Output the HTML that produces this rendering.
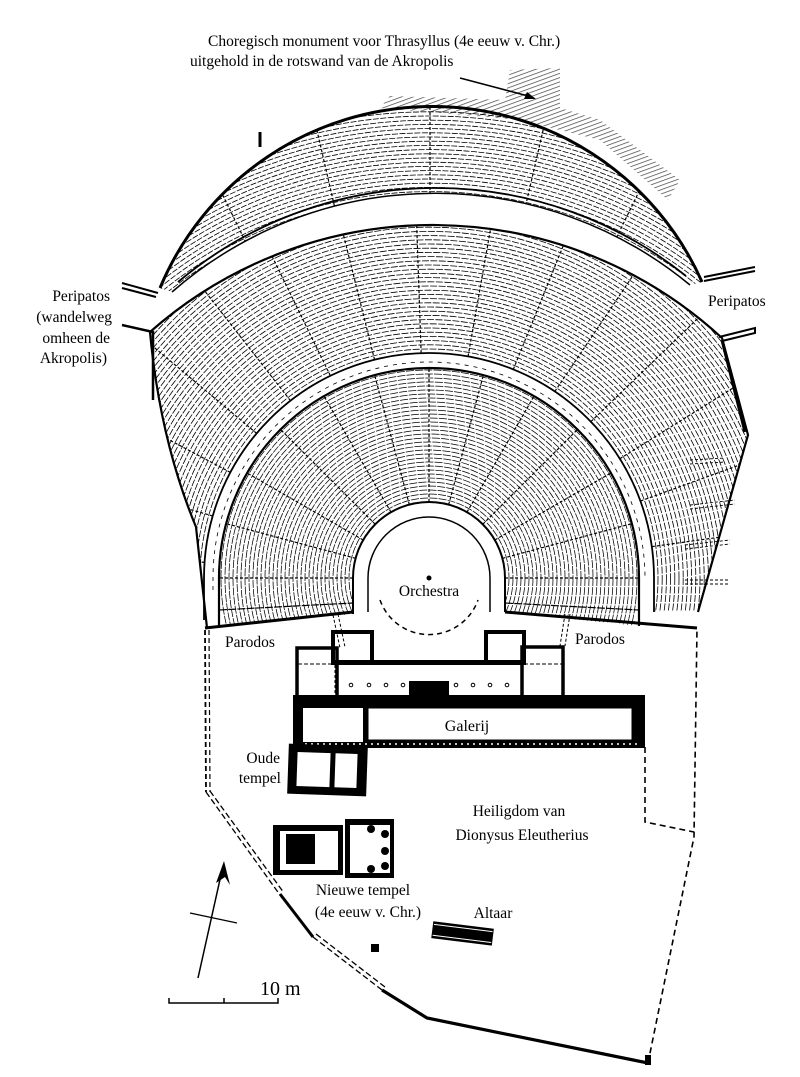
<!DOCTYPE html>
<html><head><meta charset="utf-8"><style>
html,body{margin:0;padding:0;background:#fff;width:800px;height:1077px;overflow:hidden}
svg{display:block}
text{font-family:"Liberation Serif",serif;fill:#000}
</style></head><body>
<svg width="800" height="1077" viewBox="0 0 800 1077" xmlns="http://www.w3.org/2000/svg">
<defs>
<clipPath id="cLow"><path d="M219,626 L219,578 A210,210 0 0 1 639,578 L639,626 L505,612 L505,578 A76,76 0 0 0 353,578 L353,614 Z"/></clipPath>
<clipPath id="cMid"><path d="M207,628 L196,527 Q160,440 150,332 A427,427 0 0 1 722,338 L748,435 L698,612 L654,612 L654,578 A225,225 0 0 0 204,578 Z"/></clipPath>
<clipPath id="cUp"><path d="M160,288 A295,295 0 0 1 702,282 L690,285 A400,400 0 0 0 172,292 Z"/></clipPath>
<pattern id="hatch" width="4" height="4" patternUnits="userSpaceOnUse" patternTransform="rotate(70)"><line x1="0" y1="0" x2="0" y2="4" stroke="#000" stroke-width="1.4"/></pattern>
</defs>

<text x="208" y="46" font-size="15.5">Choregisch monument voor Thrasyllus (4e eeuw v. Chr.)</text>
<text x="190" y="66" font-size="15.5">uitgehold in de rotswand van de Akropolis</text>
<line x1="460" y1="78" x2="532" y2="97" stroke="#000" stroke-width="1.5"/>
<polygon points="536,99 524,99 527,92" fill="#000"/>

<path d="M380,108 L390,96 L505,100 L510,70 L560,68 L560,108 L600,120 L680,180 L668,200 L600,140 L520,120 L430,112 Z" fill="url(#hatch)" opacity="0.75"/>

<g clip-path="url(#cUp)" fill="none" stroke="#000" stroke-width="0.8" stroke-dasharray="6 1.5"><g id="upRows"></g></g>
<g clip-path="url(#cMid)" fill="none" stroke="#000" stroke-width="0.8" stroke-dasharray="7 1.5"><g id="midRows"></g></g>
<g clip-path="url(#cLow)" fill="none" stroke="#000" stroke-width="0.75" stroke-dasharray="8 1.2"><g id="lowRows"></g></g>

<g fill="none" stroke="#000">
<path d="M160,288 A295,295 0 0 1 702,282" stroke-width="3"/>
<path d="M172,292 A400,400 0 0 1 690,285" stroke-width="1.5"/>
<path d="M178,282 A400,400 0 0 1 686,276" stroke-width="1.8"/>
<path d="M150,332 A427,427 0 0 1 722,338 L748,435 L698,612" stroke-width="2.2"/>
<path d="M150,332 Q160,440 196,527 L207,628" stroke-width="2.2"/>
<path d="M204,620 L204,578 A225,225 0 0 1 654,578 L654,612" stroke-width="1.8"/>
<path d="M219,626 L219,578 A210,210 0 0 1 639,578 L639,626" stroke-width="2.2"/>
<path d="M213,590 L213,578 A216,216 0 0 1 645,578" stroke-width="0.8" stroke-dasharray="4 5"/>
<path d="M353,614 L353,578 A76,76 0 0 1 505,578 L505,612" stroke-width="2"/>
<path d="M368,612 L368,578 A61,61 0 0 1 490,578 L490,612" stroke-width="1.5"/>
<path d="M380,600 A52,52 0 0 0 478,600" stroke-width="1.5" stroke-dasharray="5 4"/>
<path d="M205,628 L353,612 M505,612 L697,628" stroke-width="3"/>
<path d="M122,283 L158,293 M122,288 L156,297" stroke-width="2"/>
<path d="M122,325 L153,332 L153,400" stroke-width="2.5"/>
<path d="M704,277 L755,267 M704,281 L755,271" stroke-width="2"/>
<path d="M719,337 L755,328 L755,333 L722,341" stroke-width="2"/>
<path d="M722,340 L745,432" stroke-width="3"/>
<path d="M260,132 L260,147" stroke-width="3"/>
<path d="M690,460 L725,458 M690,464 L725,462 M690,505 L735,500 M690,509 L735,504 M685,545 L730,540 M685,549 L730,544 M685,580 L728,580 M685,584 L728,584" stroke-width="0.9" stroke-dasharray="3 2"/>
</g>
<circle cx="429" cy="578" r="2.5" fill="#000"/>

<g fill="none" stroke="#000">
<path d="M205,630 L206,792" stroke-width="1.8" stroke-dasharray="5 3"/>
<path d="M209,630 L210,792" stroke-width="1.2" stroke-dasharray="5 3"/>
<path d="M206,792 L280,895 M210,791 L284,893" stroke-width="1.3" stroke-dasharray="6 3"/>
<path d="M280,894 L313,937" stroke-width="3"/>
<path d="M313,937 L382,990 M316,934 L385,987" stroke-width="1.3" stroke-dasharray="6 3"/>
<path d="M382,990 L427,1018 L648,1063" stroke-width="3.2"/>
<path d="M648,1063 L694,837 L697,628" stroke-width="1.6" stroke-dasharray="6 4"/>
<path d="M645,747 L645,822 L694,832" stroke-width="1.6" stroke-dasharray="6 4"/>
<path d="M333,615 L340,648 M338,614 L345,647 M565,614 L560,646 M570,614 L565,646" stroke-width="1" stroke-dasharray="3 2"/>
</g>
<rect x="645" y="1055" width="6" height="10" fill="#000"/>

<g>
<rect x="333" y="632" width="39" height="31" fill="none" stroke="#000" stroke-width="4"/>
<rect x="486" y="632" width="38" height="31" fill="none" stroke="#000" stroke-width="4"/>
<rect x="297" y="648" width="40" height="50" fill="none" stroke="#000" stroke-width="3.5"/>
<rect x="522" y="647" width="41" height="51" fill="none" stroke="#000" stroke-width="3.5"/>
<rect x="333" y="660" width="191" height="5" fill="#000"/>
<line x1="298" y1="664" x2="333" y2="664" stroke="#000" stroke-width="1" stroke-dasharray="4 2"/>
<line x1="524" y1="664" x2="562" y2="664" stroke="#000" stroke-width="1" stroke-dasharray="4 2"/>
<line x1="335" y1="665" x2="335" y2="697" stroke="#000" stroke-width="1" stroke-dasharray="3 2"/>
<line x1="522" y1="665" x2="522" y2="697" stroke="#000" stroke-width="1" stroke-dasharray="3 2"/>
<g fill="#fff" stroke="#000" stroke-width="1">
<circle cx="351" cy="685" r="1.8"/><circle cx="369" cy="685" r="1.8"/><circle cx="386" cy="685" r="1.8"/><circle cx="403" cy="685" r="1.8"/>
<circle cx="456" cy="685" r="1.8"/><circle cx="473" cy="685" r="1.8"/><circle cx="490" cy="685" r="1.8"/><circle cx="507" cy="685" r="1.8"/>
</g>
<rect x="409" y="681" width="40" height="16" fill="#000"/>
<rect x="293" y="695" width="352" height="53" fill="#000"/>
<rect x="303" y="708" width="60" height="34" fill="#fff"/>
<rect x="368" y="708" width="264" height="32" fill="#fff" stroke="#000" stroke-width="1"/>
<line x1="305" y1="744" x2="640" y2="744" stroke="#fff" stroke-width="1.6" stroke-dasharray="2 4"/>
<text x="467" y="731" font-size="16" text-anchor="middle">Galerij</text>
<g transform="rotate(2 327 770)">
<rect x="288" y="745" width="79" height="50" fill="#000"/>
<rect x="297" y="753" width="33" height="34" fill="#fff"/>
<rect x="335" y="753" width="22" height="34" fill="#fff"/>
</g>
<rect x="273" y="825" width="70" height="50" fill="#000"/>
<rect x="280" y="831" width="58" height="39" fill="#fff"/>
<rect x="286" y="834" width="29" height="30" fill="#000"/>
<rect x="345" y="819" width="49" height="59" fill="#000"/>
<rect x="350" y="825" width="40" height="48" fill="#fff"/>
<g fill="#000"><circle cx="371" cy="829" r="4"/><circle cx="385" cy="834" r="4"/><circle cx="385" cy="851" r="4"/><circle cx="385" cy="866" r="4"/><circle cx="371" cy="869" r="4"/></g>
<g transform="rotate(7 463 934)"><rect x="432" y="925" width="61" height="17" fill="#000"/><line x1="433" y1="928" x2="492" y2="928" stroke="#fff" stroke-width="1"/><line x1="433" y1="939" x2="492" y2="939" stroke="#fff" stroke-width="1"/></g>
<rect x="371" y="944" width="8" height="8" fill="#000"/>
</g>

<g stroke="#000" fill="none">
<line x1="198" y1="978" x2="223" y2="866" stroke-width="1.5"/>
<line x1="190" y1="913" x2="237" y2="923" stroke-width="1.3"/>
<path d="M169,998 L169,1003 L278,1003 L278,998 M224,998 L224,1003" stroke-width="1.5"/>
</g>
<polygon points="224,861 216,883 225,877 230,885" fill="#000"/>
<text x="260" y="995" font-size="20">10 m</text>

<g font-size="15.5">
<text x="110" y="301" text-anchor="end">Peripatos</text>
<text x="112" y="322" text-anchor="end">(wandelweg</text>
<text x="110" y="343" text-anchor="end">omheen de</text>
<text x="107" y="363" text-anchor="end">Akropolis)</text>
<text x="708" y="306">Peripatos</text>
<text x="429" y="596" text-anchor="middle">Orchestra</text>
<text x="225" y="647">Parodos</text>
<text x="575" y="644">Parodos</text>
<text x="280" y="763" text-anchor="end">Oude</text>
<text x="281" y="783" text-anchor="end">tempel</text>
<text x="519" y="816" text-anchor="middle">Heiligdom van</text>
<text x="522" y="840" text-anchor="middle">Dionysus Eleutherius</text>
<text x="363" y="895" text-anchor="middle">Nieuwe tempel</text>
<text x="368" y="917" text-anchor="middle">(4e eeuw v. Chr.)</text>
<text x="493" y="918" text-anchor="middle">Altaar</text>
</g>
</svg>
<script>
(function(){
var NS="http://www.w3.org/2000/svg";
function add(g,tag,attrs){var e=document.createElementNS(NS,tag);for(var k in attrs)e.setAttribute(k,attrs[k]);g.appendChild(e);return e;}
var up=document.getElementById("upRows");
for(var r=420;r<=515;r+=4.2)add(up,"circle",{cx:430,cy:620,r:r});
for(var a=-168;a<=-12;a+=13){var t=a*Math.PI/180;add(up,"line",{x1:430+400*Math.cos(t),y1:620+400*Math.sin(t),x2:430+540*Math.cos(t),y2:620+540*Math.sin(t),"stroke-width":1.2,"stroke-dasharray":"3 2"});}
var mid=document.getElementById("midRows");
for(var r=229;r<=380;r+=4.2)add(mid,"circle",{cx:429,cy:578,r:r});
for(var a=-176;a<=-4;a+=12){var t=a*Math.PI/180;add(mid,"line",{x1:429+225*Math.cos(t),y1:578+225*Math.sin(t),x2:429+400*Math.cos(t),y2:578+400*Math.sin(t),"stroke-width":1.2,"stroke-dasharray":"3 2"});}
var low=document.getElementById("lowRows");
for(var r=80;r<=208;r+=4)add(low,"circle",{cx:429,cy:578,r:r});
for(var a=-180;a<=0;a+=15){var t=a*Math.PI/180;add(low,"line",{x1:429+76*Math.cos(t),y1:578+76*Math.sin(t),x2:429+210*Math.cos(t),y2:578+210*Math.sin(t),"stroke-width":1.2,"stroke-dasharray":"3 2"});}
add(low,"line",{x1:219,y1:610,x2:353,y2:603,"stroke-width":1.2});
add(low,"line",{x1:505,y1:603,x2:639,y2:610,"stroke-width":1.2});
})();
</script>
</body></html>
